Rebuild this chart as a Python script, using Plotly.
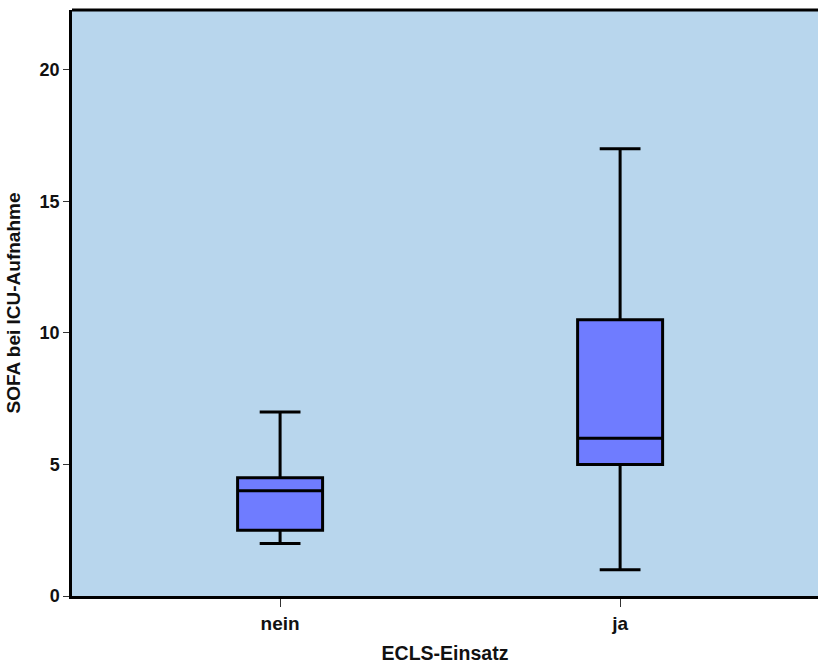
import plotly.graph_objects as go

categories = ["nein", "ja"]
lower = [2, 1]
q1 = [2.5, 5]
median = [4, 6]
q3 = [4.5, 10.5]
upper = [7, 17]
y_ticks = [0, 5, 10, 15, 20]

fig = go.Figure()
for i, c in enumerate(categories):
    fig.add_trace(go.Box(
        x=[c], q1=[q1[i]], median=[median[i]], q3=[q3[i]],
        lowerfence=[lower[i]], upperfence=[upper[i]],
        width=0.25, whiskerwidth=0.48,
        fillcolor="#6f7cff", line=dict(color="black", width=3),
        boxpoints=False, showlegend=False, hoverinfo="skip",
    ))

tick_font = "Liberation Sans Narrow, Arial Narrow, Liberation Sans, Arial, sans-serif"
title_font = "Liberation Sans, Arial, sans-serif"
fig.update_layout(
    width=818, height=664,
    margin=dict(l=72, r=0, t=10, b=68),
    paper_bgcolor="white", plot_bgcolor="#b8d6ed",
    font=dict(family=title_font, color="#111", size=13),
    xaxis=dict(
        type="category", categoryorder="array", categoryarray=categories,
        range=[-0.612, 1.582], showgrid=False, zeroline=False,
        showline=True, linecolor="black", linewidth=2.5,
        ticks="outside", ticklen=8, tickcolor="#333", tickwidth=1,
        tickfont=dict(family=tick_font, size=19, color="#111", weight="bold"),
        title=dict(text="<b>ECLS-Einsatz</b>", font=dict(family=title_font, size=19.5, color="#111"), standoff=18),
    ),
    yaxis=dict(
        range=[0, 22.28], tickvals=y_ticks, showgrid=False, zeroline=False,
        showline=True, linecolor="black", linewidth=2.5,
        ticks="outside", ticklen=6, tickcolor="#333", tickwidth=1,
        tickfont=dict(family=tick_font, size=18, color="#111", weight="bold"),
        title=dict(text="<b>SOFA bei ICU-Aufnahme</b>", font=dict(family=title_font, size=19, color="#111"), standoff=14),
    ),
    shapes=[dict(type="line", xref="paper", yref="paper", x0=0, x1=1, y0=1, y1=1,
                 line=dict(color="black", width=3))],
)
fig.write_html("out.html")
